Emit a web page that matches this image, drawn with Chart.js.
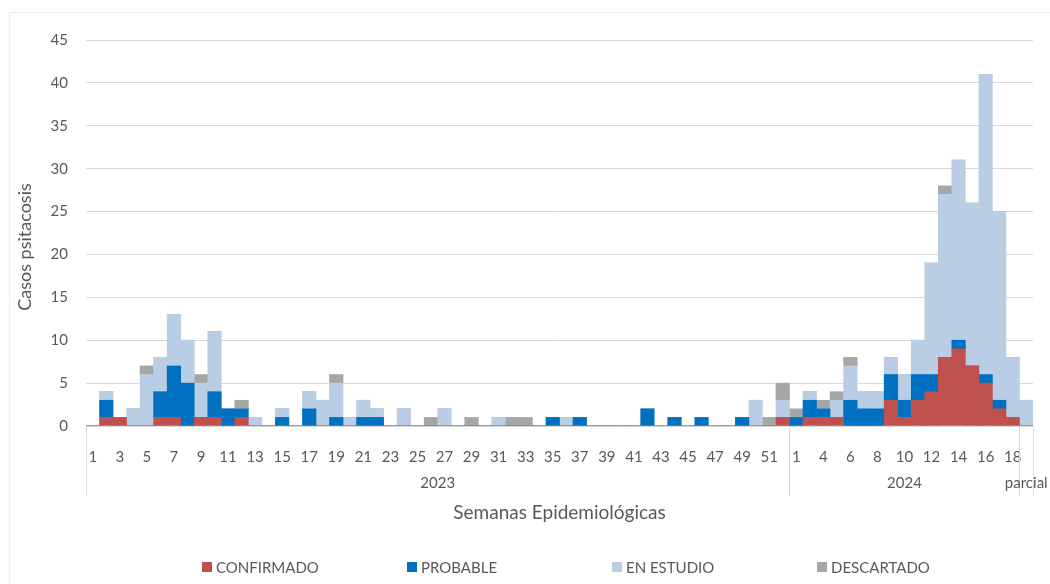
<!DOCTYPE html>
<html>
<head>
<meta charset="utf-8">
<script src="https://cdn.jsdelivr.net/npm/chart.js@4.4.1/dist/chart.umd.min.js"></script>
<style>
html,body{margin:0;padding:0;background:#ffffff;}
#wrap{width:1050px;height:584px;position:relative;}
</style>
</head>
<body>
<div id="wrap"><canvas id="c" width="1050" height="584"></canvas></div>
<script>
// Week labels (inner category level)
const weeks2023 = ['1','2','3','4','5','6','7','8','9','10','11','12','13','14','15','16','17','18','19','20','21','22','23','24','25','26','27','28','29','30','31','32','33','34','35','36','37','38','39','40','41','42','43','44','45','46','47','48','49','50','51','52'];
const weeks2024 = ['1','2','4','5','6','7','8','9','10','11','12','13','14','15','16','17','18','19'];
// Outer category level
const groupLabels = ['2023','2024','parcial'];
const groupSizes = [52,17,1];

// Series (2023 weeks 1-52, then 2024)
const confirmado2023 = [0,1,1,0,0,1,1,0,1,1,0,1,0, 0,0,0,0,0,0,0,0,0,0,0,0,0, 0,0,0,0,0,0,0,0,0,0,0,0,0, 0,0,0,0,0,0,0,0,0,0,0,0,1];
const confirmado2024 = [0,1,1,1,0,0,0,3,1,3,4,8,9,7,5,2,1,0];
const probable2023   = [0,2,0,0,0,3,6,5,0,3,2,1,0, 0,1,0,2,0,1,0,1,1,0,0,0,0, 0,0,0,0,0,0,0,0,1,0,1,0,0, 0,0,2,0,1,0,1,0,0,1,0,0,0];
const probable2024   = [1,2,1,0,3,2,2,3,2,3,2,0,1,0,1,1,0,0];
const enEstudio2023  = [0,1,0,2,6,4,6,5,4,7,0,0,1, 0,1,0,2,3,4,1,2,1,0,2,0,0, 2,0,0,0,1,0,0,0,0,1,0,0,0, 0,0,0,0,0,0,0,0,0,0,3,0,2];
const enEstudio2024  = [0,1,0,2,4,2,2,2,3,4,13,19,21,19,35,22,7,3];
const descartado2023 = [0,0,0,0,1,0,0,0,1,0,0,1,0, 0,0,0,0,0,1,0,0,0,0,0,0,1, 0,0,1,0,0,1,1,0,0,0,0,0,0, 0,0,0,0,0,0,0,0,0,0,0,1,2];
const descartado2024 = [1,0,1,1,1,0,0,0,0,0,0,1,0,0,0,0,0,0];

const seriesNames = ['CONFIRMADO','PROBABLE','EN ESTUDIO','DESCARTADO'];
const seriesColors = ['#C0504D','#0070C0','#B9CDE5','#A6A6A6'];

const yTitle = 'Casos psitacosis';
const xTitle = 'Semanas Epidemiológicas';

const labels = weeks2023.concat(weeks2024);
const seriesData = [
  confirmado2023.concat(confirmado2024),
  probable2023.concat(probable2024),
  enEstudio2023.concat(enEstudio2024),
  descartado2023.concat(descartado2024)
];

const FONT = 'Lato, "Open Sans", sans-serif';
const TXT = '#595959';
const GRID = '#d9d9d9';

const decorPlugin = {
  id: 'decor',
  afterDraw(chart) {
    const ctx = chart.ctx;
    const xs = chart.scales.x;
    const ca = chart.chartArea;
    ctx.save();
    // faint outer frame
    ctx.strokeStyle = '#eeeeee';
    ctx.lineWidth = 1;
    ctx.beginPath();
    ctx.moveTo(9.5, 584); ctx.lineTo(9.5, 12.5); ctx.lineTo(1050, 12.5);
    ctx.stroke();

    // group separators and group labels
    const n = labels.length;
    const boundary = (i) => {
      if (i <= 0) return ca.left;
      if (i >= n) return ca.right;
      return (xs.getPixelForValue(i - 1) + xs.getPixelForValue(i)) / 2;
    };
    ctx.strokeStyle = GRID;
    ctx.lineWidth = 1;
    let start = 0;
    const bounds = [0];
    groupSizes.forEach(s => { start += s; bounds.push(start); });
    ctx.beginPath();
    bounds.forEach(b => {
      const x = Math.round(boundary(b)) + 0.5;
      ctx.moveTo(x, ca.bottom);
      ctx.lineTo(x, ca.bottom + 70);
    });
    ctx.stroke();

    ctx.fillStyle = TXT;
    ctx.font = '15px ' + FONT;
    ctx.textAlign = 'center';
    ctx.textBaseline = 'middle';
    groupLabels.forEach((g, k) => {
      const a = bounds[k], b = bounds[k + 1] - 1;
      const cx = (xs.getPixelForValue(a) + xs.getPixelForValue(b)) / 2;
      ctx.fillText(g, cx, ca.bottom + 57);
    });

    // x title
    ctx.font = '19px ' + FONT;
    ctx.fillText(xTitle, (ca.left + ca.right) / 2, ca.bottom + 87);

    // y title
    ctx.save();
    ctx.translate(25, 247);
    ctx.rotate(-Math.PI / 2);
    ctx.font = '18px ' + FONT;
    ctx.fillText(yTitle, 0, 0);
    ctx.restore();

    // legend
    ctx.font = '15px ' + FONT;
    ctx.textAlign = 'left';
    const ly = 567;
    chart.data.datasets.forEach((ds, i) => {
      const x0 = 202 + i * 205;
      ctx.fillStyle = ds.backgroundColor;
      ctx.fillRect(x0, ly - 5, 10, 10);
      ctx.fillStyle = TXT;
      ctx.fillText(ds.label, x0 + 14, ly + 1);
    });
    ctx.restore();
  }
};

new Chart(document.getElementById('c').getContext('2d'), {
  type: 'bar',
  data: {
    labels: labels,
    datasets: seriesNames.map((name, i) => ({
      label: name,
      data: seriesData[i],
      backgroundColor: seriesColors[i],
      borderWidth: 0,
      barPercentage: 1,
      categoryPercentage: 1
    }))
  },
  options: {
    responsive: false,
    animation: false,
    layout: { padding: { top: 40, right: 17, left: 0, bottom: 0 } },
    plugins: { legend: { display: false }, tooltip: { enabled: false } },
    scales: {
      x: {
        stacked: true,
        grid: { display: false },
        border: { display: true, color: GRID },
        ticks: {
          autoSkip: false, maxRotation: 0, minRotation: 0, padding: 14,
          color: TXT, font: { family: FONT, size: 15 },
          callback: function (v, i) { return i % 2 === 0 ? this.getLabelForValue(v) : ''; }
        },
        afterFit(s) { s.height = 158; }
      },
      y: {
        stacked: true, min: 0, max: 45,
        ticks: { stepSize: 5, padding: 18, color: TXT, font: { family: FONT, size: 15 } },
        grid: { color: GRID, drawTicks: false },
        border: { display: false },
        afterFit(s) { s.width = 86; }
      }
    }
  },
  plugins: [decorPlugin]
});
</script>
</body>
</html>
